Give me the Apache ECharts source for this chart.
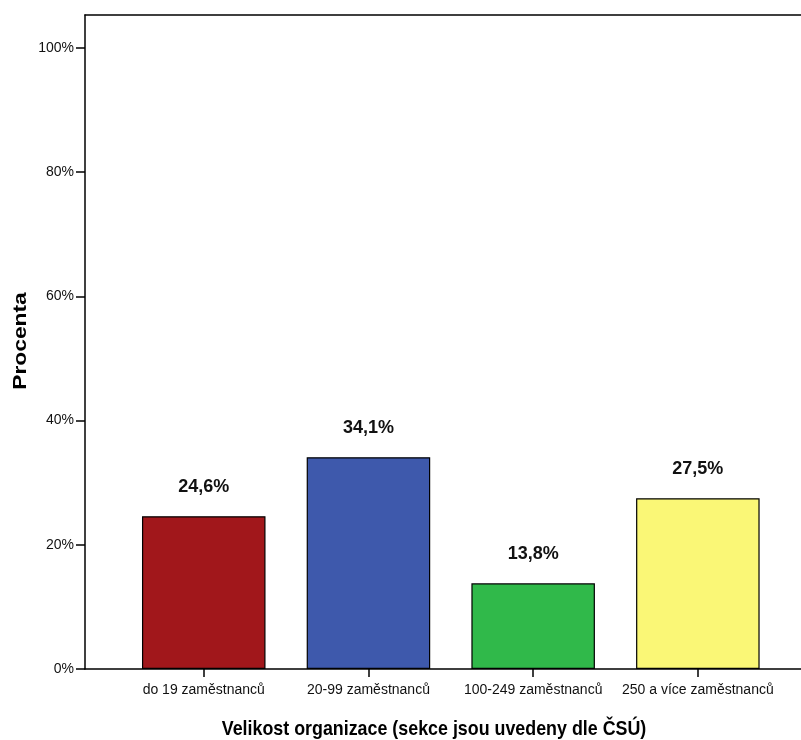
<!DOCTYPE html>
<html>
<head>
<meta charset="utf-8">
<script src="https://cdn.jsdelivr.net/npm/echarts@6/dist/echarts.min.js"></script>
<style>
  html, body { margin: 0; padding: 0; background: #fff; }
  #chart { width: 801px; height: 740px; }
</style>
</head>
<body>
<div id="chart"></div>
<script>
// Company size categories and share of respondents (%)
const categories = ['do 19 zaměstnanců', '20-99 zaměstnanců', '100-249 zaměstnanců', '250 a více zaměstnanců'];
const values = [24.6, 34.1, 13.8, 27.5];
const barColors = ['#A1171B', '#3E59AC', '#30B94A', '#FAF776'];
const yTicks = [0, 20, 40, 60, 80, 100];
const yAxisTitle = 'Procenta';
const xAxisTitle = 'Velikost organizace (sekce jsou uvedeny dle ČSÚ)';

const font = '"Liberation Sans Narrow", "Arial Narrow", "Liberation Sans", Arial, sans-serif';
const Y_MAX = 105.3;
const frameLine = { show: true, lineStyle: { color: '#000', width: 1.5 } };

const chart = echarts.init(document.getElementById('chart'), null, { renderer: 'canvas' });

chart.setOption({
  animation: false,
  backgroundColor: '#fff',
  grid: [
    // outer frame with the value axis; it runs on past the right edge
    { left: 85, top: 15, right: 0, bottom: 71, containLabel: false },
    // inner area where the bars sit
    { left: 121.4, top: 15, width: 658.8, bottom: 71, containLabel: false }
  ],
  xAxis: [
    { gridIndex: 0, type: 'value', min: 0, max: 1, position: 'bottom',
      axisLine: frameLine, axisTick: { show: false }, axisLabel: { show: false }, splitLine: { show: false } },
    { gridIndex: 0, type: 'value', min: 0, max: 1, position: 'top',
      axisLine: frameLine, axisTick: { show: false }, axisLabel: { show: false }, splitLine: { show: false } },
    {
      gridIndex: 1, type: 'category', data: categories,
      axisLine: { show: false },
      axisTick: { show: true, alignWithLabel: true, length: 8, lineStyle: { color: '#000', width: 1.5 } },
      axisLabel: { interval: 0, color: '#111', fontFamily: font, fontSize: 14, margin: 14 }
    }
  ],
  yAxis: [
    {
      gridIndex: 0, type: 'value', min: 0, max: Y_MAX,
      axisLine: frameLine,
      axisTick: { show: true, length: 9, customValues: yTicks, lineStyle: { color: '#000', width: 1.5 } },
      axisLabel: { customValues: yTicks, formatter: v => v + '%', color: '#111', fontFamily: font, fontSize: 14, margin: 11 },
      splitLine: { show: false }
    },
    { gridIndex: 1, type: 'value', min: 0, max: Y_MAX, show: false, splitLine: { show: false } }
  ],
  graphic: [
    {
      type: 'text', x: 21, y: 341, rotation: Math.PI / 2, scaleX: 1.2,
      style: {
        text: yAxisTitle, fill: '#000', font: 'bold 19px ' + font,
        align: 'center', verticalAlign: 'middle'
      }
    },
    {
      type: 'text', x: 434, y: 729, scaleX: 0.85,
      style: {
        text: xAxisTitle, fill: '#000', font: 'bold 21px ' + font,
        align: 'center', verticalAlign: 'middle'
      }
    }
  ],
  series: [{
    type: 'bar',
    xAxisIndex: 2, yAxisIndex: 1,
    barCategoryGap: '25%',
    data: values.map((v, i) => ({ value: v, itemStyle: { color: barColors[i] } })),
    itemStyle: { borderColor: '#000', borderWidth: 1.2 },
    label: {
      show: true, position: 'top', distance: 20,
      formatter: p => String(p.value).replace('.', ',') + '%',
      color: '#111', fontFamily: font, fontWeight: 'bold', fontSize: 18
    }
  }]
});
</script>
</body>
</html>
